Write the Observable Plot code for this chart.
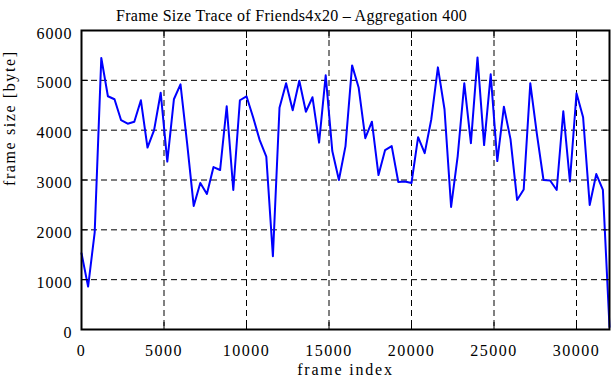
<!DOCTYPE html>
<html><head><meta charset="utf-8">
<script src="https://cdn.jsdelivr.net/npm/d3@7"></script>
<script src="https://cdn.jsdelivr.net/npm/@observablehq/plot@0.6"></script>
<style>
body{margin:0;background:#fff}
g[aria-label="x-axis tick label"] text{letter-spacing:1.5px}
g[aria-label="y-axis tick label"] text{letter-spacing:1px}
</style>
</head><body><div id="chart"></div>
<script>
const titleText = "Frame Size Trace of Friends4x20 \u2013 Aggregation 400";
const xLabel = "frame index";
const yLabel = "frame size [byte]";
const aggregation = 400;
const frameSizes = [
  1530, 860, 1950, 5450, 4680, 4620, 4200, 4130, 4170, 4600,
  3650, 4000, 4750, 3370, 4620, 4920, 3740, 2480, 2940, 2720,
  3260, 3200, 4480, 2800, 4600, 4680, 4260, 3800, 3470, 1470,
  4450, 4940, 4400, 4990, 4370, 4660, 3750, 5100, 3580, 3000,
  3680, 5300, 4850, 3840, 4170, 3100, 3600, 3680, 2960, 2970,
  2940, 3860, 3540, 4220, 5260, 4420, 2460, 3480, 4940, 3740,
  5460, 3700, 5120, 3380, 4470, 3820, 2600, 2810, 4940, 3920,
  3000, 2990, 2800, 4380, 2970, 4740, 4260, 2500, 3120, 2800,
  50
];
const xTicks = [0, 5000, 10000, 15000, 20000, 25000, 30000];
const yTicks = [0, 1000, 2000, 3000, 4000, 5000, 6000];
const xDomain = [0, 32000];
const yDomain = [0, 6000];

const data = frameSizes.map((v, i) => ({frame: i * aggregation, size: v}));
const noText = () => "";

const chart = Plot.plot({
  width: 611,
  height: 380,
  marginLeft: 81,
  marginRight: 2,
  marginTop: 30,
  marginBottom: 51,
  style: "font-family: 'Liberation Serif', 'DejaVu Serif', serif; font-size: 16px; background: white; color: black;",
  x: {domain: xDomain},
  y: {domain: yDomain},
  marks: [
    Plot.gridX(xTicks.slice(1), {stroke: "black", strokeOpacity: 1, strokeWidth: 1, strokeDasharray: "6,4"}),
    Plot.gridY(yTicks.slice(1, -1), {stroke: "black", strokeOpacity: 1, strokeWidth: 1, strokeDasharray: "6,4"}),
    Plot.line(data, {x: "frame", y: "size", stroke: "#0000ff", strokeWidth: 2}),
    Plot.frame({stroke: "black", strokeWidth: 2}),
    // inward ticks on all four sides
    Plot.axisX(xTicks, {anchor: "bottom", tickSize: 7, dy: -7, tickFormat: noText, label: null}),
    Plot.axisX(xTicks, {anchor: "top", tickSize: 7, dy: 7, tickFormat: noText, label: null}),
    Plot.axisY(yTicks, {anchor: "left", tickSize: 7, dx: 7, tickFormat: noText, label: null}),
    Plot.axisY(yTicks, {anchor: "right", tickSize: 7, dx: -7, tickFormat: noText, label: null}),
    // tick labels
    Plot.axisX(xTicks, {anchor: "bottom", tickSize: 0, tickPadding: 15, label: null, tickFormat: d => String(d)}),
    Plot.axisY(yTicks, {anchor: "left", tickSize: 0, tickPadding: 9, dy: 3, label: null, tickFormat: d => String(d)}),
    Plot.text([xLabel], {frameAnchor: "bottom", dy: 40, lineAnchor: "middle", fontSize: 16}),
    Plot.text([yLabel], {frameAnchor: "left", rotate: -90, dx: -72, dy: 6, fontSize: 16}),
    Plot.text([titleText], {frameAnchor: "top", dy: -21, dx: -54, fontSize: 16})
  ]
});
// letter spacing to match the wide gnuplot text rendering
const spacing = new Map([[xLabel, "1.8px"], [yLabel, "1.6px"], [titleText, "0.3px"]]);
d3.select(chart).selectAll("text").each(function () {
  const s = spacing.get(this.textContent);
  if (s) this.style.letterSpacing = s;
});
document.getElementById("chart").appendChild(chart);
</script>
</body></html>
